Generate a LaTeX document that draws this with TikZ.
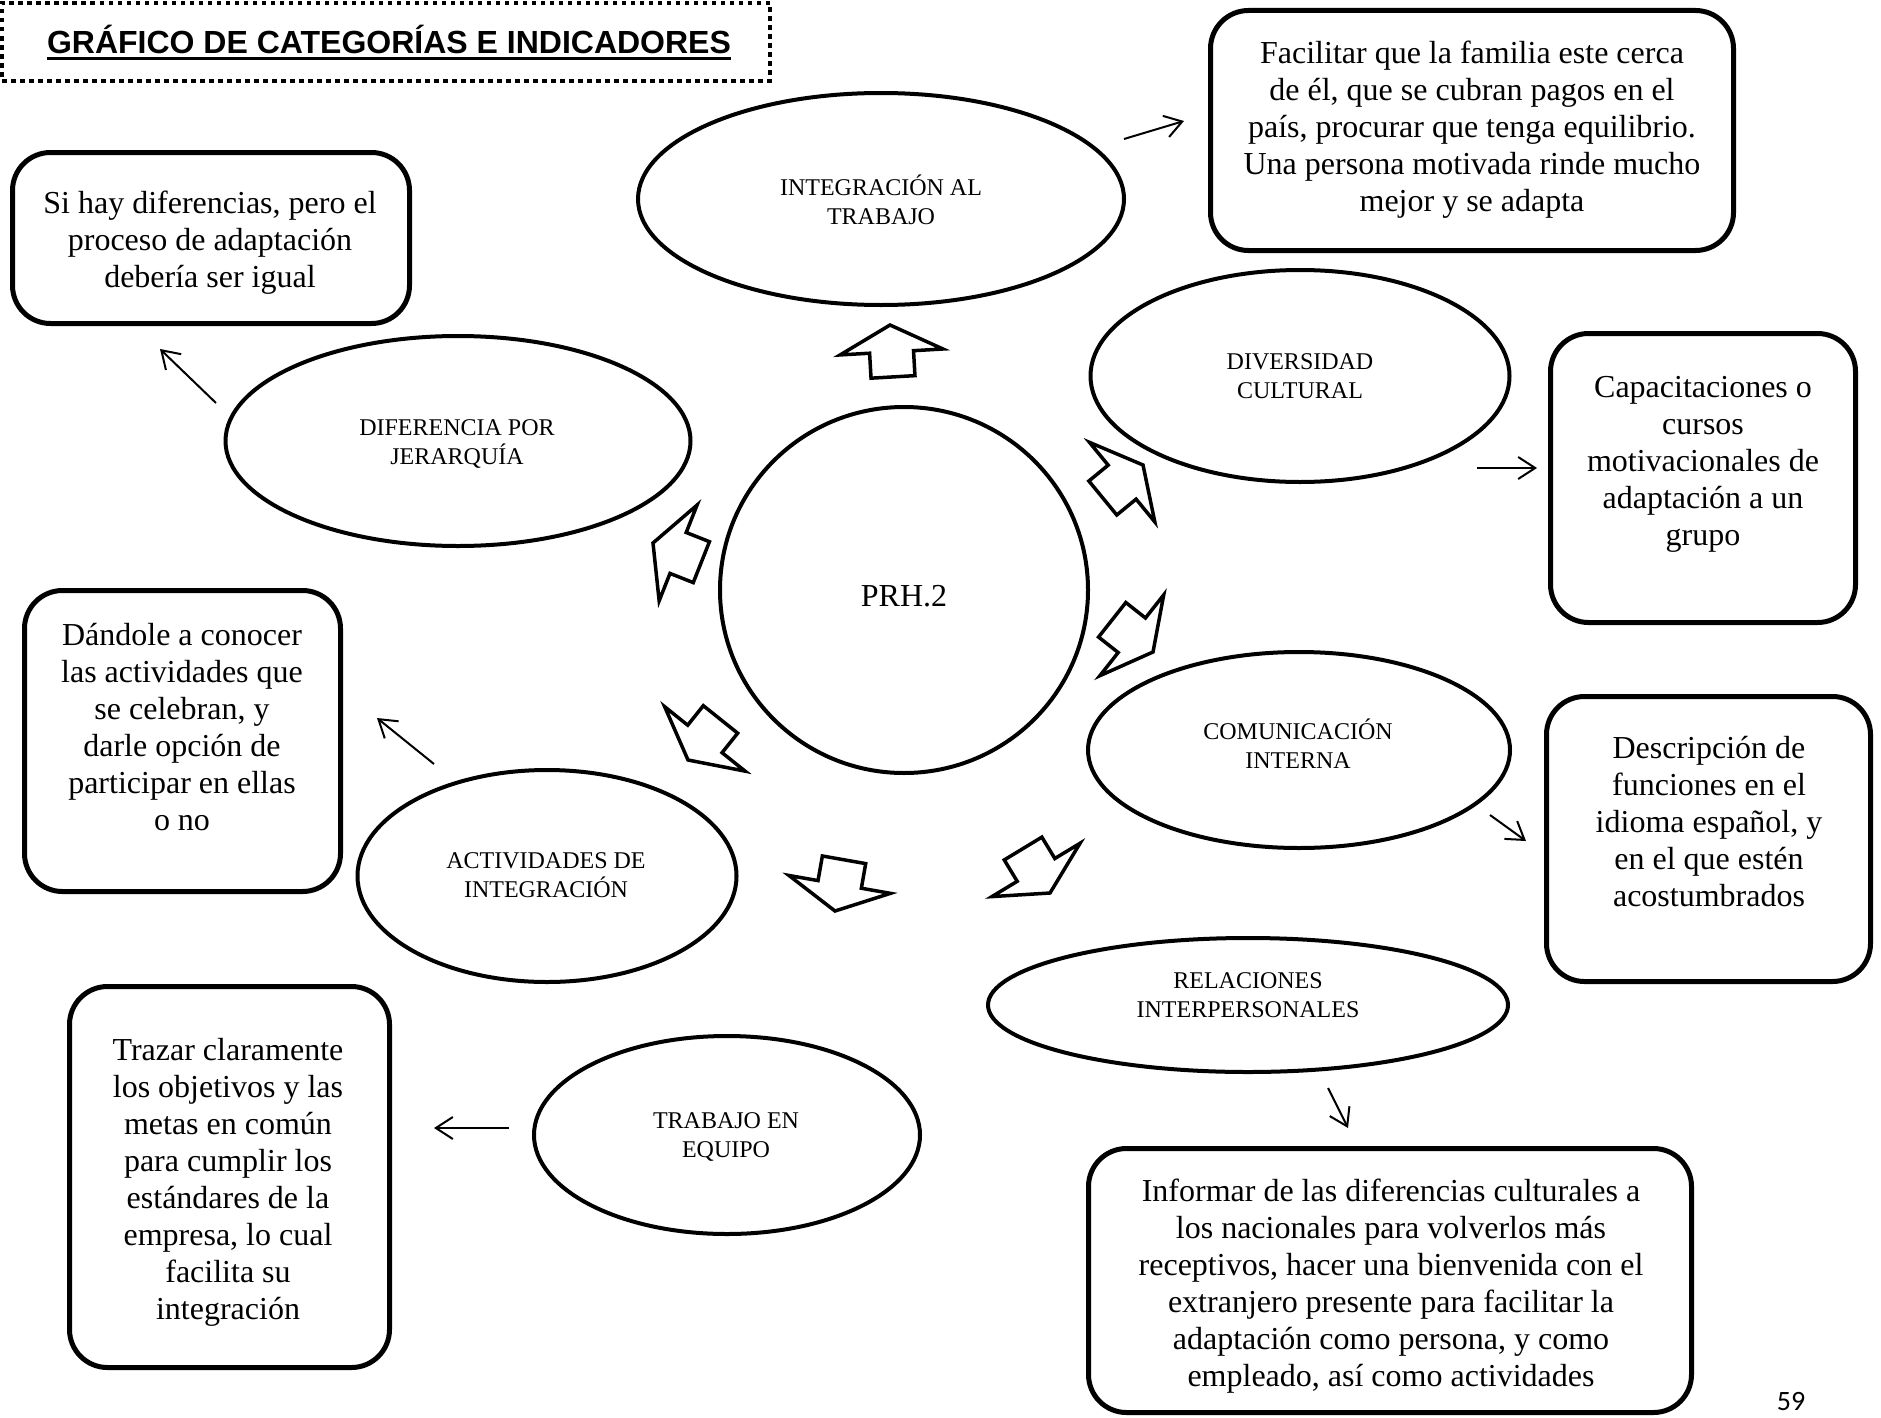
\documentclass[tikz,border=0pt]{standalone}
\usepackage{fontspec}
\setmainfont{Liberation Serif}
\newfontfamily\headfont{Liberation Sans}
\newfontfamily\folfont{Carlito}
\usetikzlibrary{arrows.meta,shapes.geometric}
\newcommand\bodytxt{\fontsize{32}{37}\selectfont}
\newcommand\ovaltxt{\fontsize{24}{29}\selectfont}

\begin{document}
\begin{tikzpicture}[x=1pt, y=-1pt,
  oval/.style={draw, ellipse, line width=4pt, inner sep=0pt},
  card/.style={draw, rectangle, rounded corners=38pt, line width=5pt, inner sep=0pt},
  % multi-line texts are placed by the baseline of their last line
  cardtext/.style={anchor=base, align=center, inner sep=0pt, font=\bodytxt},
  ovaltext/.style={anchor=base, align=center, inner sep=0pt, font=\ovaltxt},
  link/.style={line width=2pt, -{Straight Barb[length=17pt,width=22pt]}},
  fatarrow/.style={draw, line width=3.5pt, fill=white, line join=miter}]

\fill[white] (0,0) rectangle (1881,1418);
\path[use as bounding box] (0,0) rectangle (1881,1418);

% heading with dotted frame
\node[draw, line width=4.5pt, dash pattern=on 4.5pt off 4.5pt, minimum width=768pt,
      minimum height=78pt, inner sep=0pt] (frame) at (386,42) {};
\node[anchor=base, inner sep=0pt, font=\headfont\bfseries\fontsize{32}{38}\selectfont]
      (title) at (389,54) {GRÁFICO DE CATEGORÍAS E INDICADORES};
\draw[line width=3pt] ([yshift=-5pt]title.base west) -- ([yshift=-5pt]title.base east);

% central circle and categories
\node[oval, minimum width=368pt, minimum height=366pt] (core) at (904,590) {};
\node[anchor=base, inner sep=0pt, font=\fontsize{32}{37}\selectfont] (coretxt) at (904,606) {PRH.2};

\node[oval, minimum width=486pt, minimum height=212pt] (integ) at (881,199) {};
\node[oval, minimum width=419pt, minimum height=212pt] (divers) at (1300,376) {};
\node[oval, minimum width=465pt, minimum height=210pt] (jerar) at (458,441) {};
\node[oval, minimum width=422pt, minimum height=196pt] (comun) at (1299,750) {};
\node[oval, minimum width=379pt, minimum height=212pt] (activ) at (547,876) {};
\node[oval, minimum width=520pt, minimum height=134pt] (relac) at (1248,1005) {};
\node[oval, minimum width=386pt, minimum height=198pt] (equipo) at (727,1135) {};

\node[ovaltext] (integt) at (881,224) {INTEGRACIÓN AL\\TRABAJO};
\node[ovaltext] (diverst) at (1300,398) {DIVERSIDAD\\CULTURAL};
\node[ovaltext] (jerart) at (457,464) {DIFERENCIA POR\\JERARQUÍA};
\node[ovaltext] (comunt) at (1298,768) {COMUNICACIÓN\\INTERNA};
\node[ovaltext] (activt) at (546,897) {ACTIVIDADES DE\\INTEGRACIÓN};
\node[ovaltext] (relact) at (1248,1017) {RELACIONES\\INTERPERSONALES};
\node[ovaltext] (equipot) at (726,1157) {TRABAJO EN\\EQUIPO};

% outline block arrows from the centre towards each category
\foreach \px/\py/\ang in {890/325/93.3, 1143/465/39.4, 653/543/158.4, 688/760/231.3,
                          835/911/260, 1050/893/301.2, 1153/652/321.7}
  \draw[fatarrow, shift={(\px,\py)}, rotate=\ang]
    (0,0) -- (-27,51.5) -- (-27,22) -- (-52,22) -- (-52,-22) -- (-27,-22) -- (-27,-51.5) -- cycle;

% indicator boxes
\node[card, minimum width=523pt, minimum height=240pt] (boxA) at (1472,130.5) {};
\node[card, minimum width=397pt, minimum height=171pt] (boxB) at (211,238) {};
\node[card, minimum width=305pt, minimum height=289pt] (boxC) at (1703,478) {};
\node[card, minimum width=316pt, minimum height=301pt] (boxD) at (182.5,741) {};
\node[card, minimum width=324pt, minimum height=285pt] (boxE) at (1708.5,839) {};
\node[card, minimum width=320pt, minimum height=381pt] (boxF) at (229.5,1177) {};
\node[card, minimum width=603pt, minimum height=264pt] (boxG) at (1390,1280.5) {};

\node[cardtext] (txtA) at (1472,211) {Facilitar que la familia este cerca\\de él, que se cubran pagos en el\\país, procurar que tenga equilibrio.\\Una persona motivada rinde mucho\\mejor y se adapta};
\node[cardtext] (txtB) at (210,287) {Si hay diferencias, pero el\\proceso de adaptación\\debería ser igual};
\node[cardtext] (txtC) at (1703,545) {Capacitaciones o\\cursos\\motivacionales de\\adaptación a un\\grupo};
\node[cardtext] (txtD) at (182,830) {Dándole a conocer\\las actividades que\\se celebran, y\\darle opción de\\participar en ellas\\o no};
\node[cardtext] (txtE) at (1709,906) {Descripción de\\funciones en el\\idioma español, y\\en el que estén\\acostumbrados};
\node[cardtext] (txtF) at (228,1319) {Trazar claramente\\los objetivos y las\\metas en común\\para cumplir los\\estándares de la\\empresa, lo cual\\facilita su\\integración};
\node[cardtext] (txtG) at (1391,1386) {Informar de las diferencias culturales a\\los nacionales para volverlos más\\receptivos, hacer una bienvenida con el\\extranjero presente para facilitar la\\adaptación como persona, y como\\empleado, así como actividades};

% thin arrows from categories to their indicators
\coordinate (l1a) at (1124,139);  \coordinate (l1b) at (1184,121);
\coordinate (l2a) at (216,403);   \coordinate (l2b) at (160,349);
\coordinate (l3a) at (1477,468);  \coordinate (l3b) at (1537,468);
\coordinate (l4a) at (434,764);   \coordinate (l4b) at (377,718);
\coordinate (l5a) at (1490,815);  \coordinate (l5b) at (1526,841);
\coordinate (l6a) at (1328,1088); \coordinate (l6b) at (1348,1128);
\coordinate (l7a) at (509,1128);  \coordinate (l7b) at (434,1128);
\foreach \k in {1,...,7} \draw[link] (l\k a) -- (l\k b);

% page number
\node[anchor=base, inner sep=0pt, font=\folfont\fontsize{28}{30}\selectfont] (folio) at (1791,1410) {59};
\end{tikzpicture}
\end{document}
